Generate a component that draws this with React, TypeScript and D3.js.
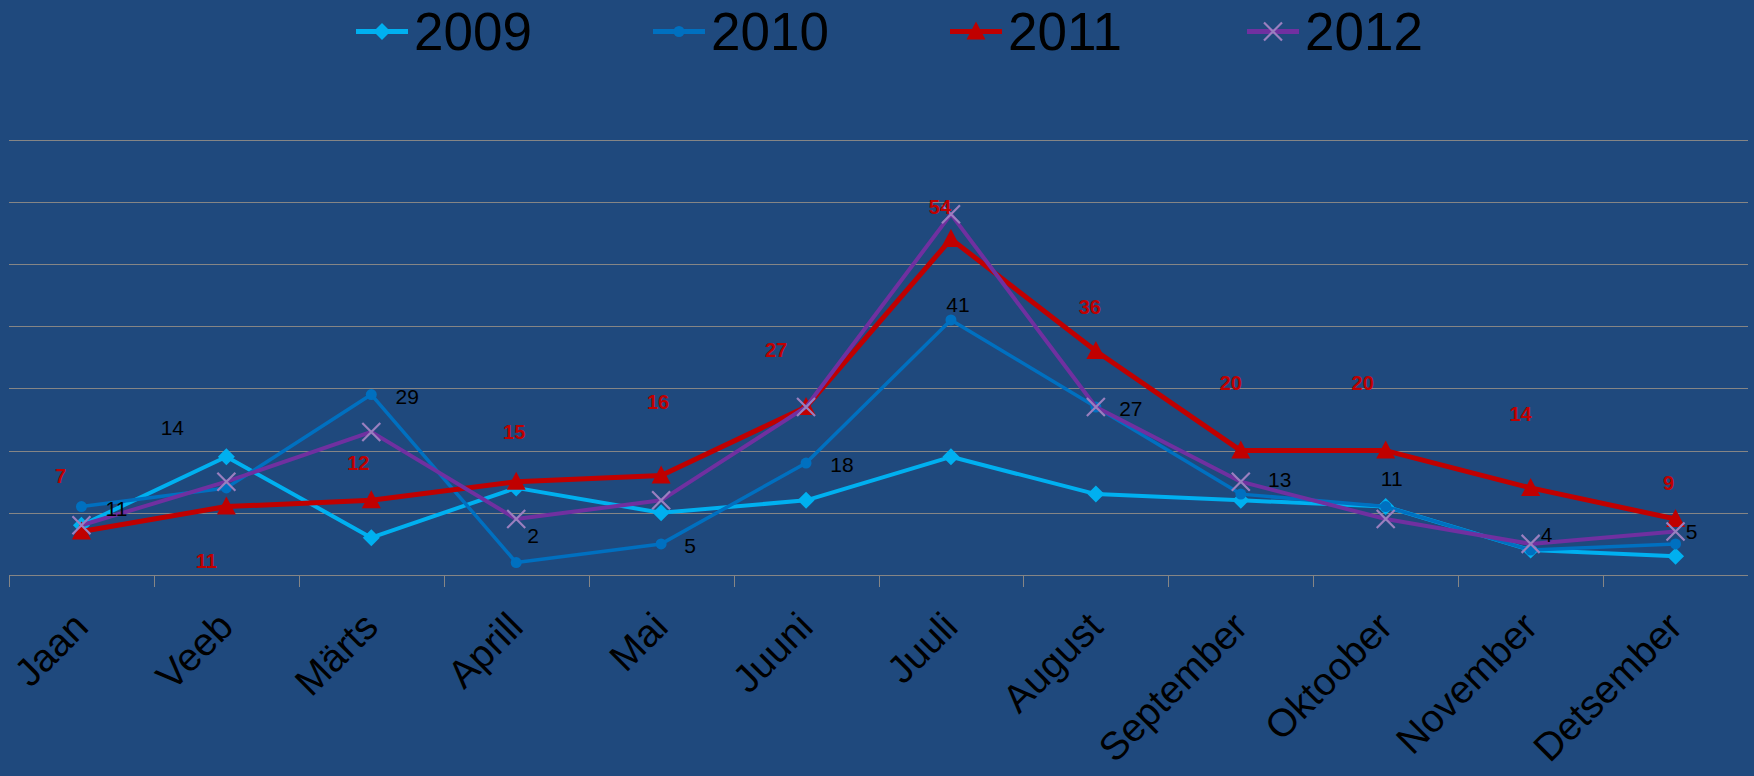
import React, {useEffect, useRef} from 'react';
import * as d3 from "d3";

const months = ["Jaan", "Veeb", "Märts", "Aprill", "Mai", "Juuni", "Juuli", "August", "September", "Oktoober", "November", "Detsember"];
const years = ["2009", "2010", "2011", "2012"];
const values2009 = [8, 19, 6, 14, 10, 12, 19, 13, 12, 11, 4, 3];
const values2010 = [11, 14, 29, 2, 5, 18, 41, 27, 13, 11, 4, 5];
const values2011 = [7, 11, 12, 15, 16, 27, 54, 36, 20, 20, 14, 9];
const values2012 = [8, 15, 23, 9, 12, 27, 58, 27, 15, 9, 5, 7];
const yTicks = [0, 10, 20, 30, 40, 50, 60, 70];

// labels were dragged around by hand in the original, so keep their nudges (px from the point)
const labelShift2010 = [[35, 2], [-54, -60], [36, 2], [17, -27], [29, 2], [36, 1], [7, -15], [35, 1], [39, -15], [6, -28], [16, -16], [16, -12]];
const labelShift2011 = [[-21, -56], [-20, 54], [-13, -38], [-2, -50], [-3, -74], [-30, -57], [-11, -32], [-6, -44], [-10, -68], [-23, -68], [-10, -74], [-7, -36]];

const W = 1754, H = 776;
const font = "'Liberation Sans', Arial, sans-serif";

const styles = [
    {color: "#00B0F0", width: 4, marker: "diamond"},
    {color: "#0070C0", width: 3.5, marker: "circle"},
    {color: "#C00000", width: 5, marker: "triangle"},
    {color: "#7030A0", width: 4, marker: "cross"},
];

function drawMarker(g: any, kind: string, x: number, y: number, color: string) {
    if (kind == "diamond") {
        g.append("path")
            .attr("d", `M${x},${y - 8.5} L${x + 8.5},${y} L${x},${y + 8.5} L${x - 8.5},${y} Z`)
            .attr("fill", color);
    } else if (kind == "circle") {
        g.append("circle").attr("cx", x).attr("cy", y).attr("r", 5.5).attr("fill", color);
    } else if (kind == "triangle") {
        g.append("path")
            .attr("d", `M${x},${y - 10} L${x + 9.5},${y + 8} L${x - 9.5},${y + 8} Z`)
            .attr("fill", color);
    } else {
        const s = 9;
        g.append("path")
            .attr("d", `M${x - s},${y - s} L${x + s},${y + s} M${x - s},${y + s} L${x + s},${y - s}`)
            .attr("stroke", "#9a7fbf")
            .attr("stroke-width", 2.2)
            .attr("fill", "none");
    }
}

export default function App() {
    const ref = useRef<SVGSVGElement>(null);

    useEffect(() => {
        const svg = d3.select(ref.current);
        svg.selectAll("*").remove();

        const series = [values2009, values2010, values2011, values2012];

        svg.append("rect").attr("width", W).attr("height", H).attr("fill", "#1F497D");

        const xScale = d3.scaleBand().domain(months).range([9, 1748]);
        const yScale = d3.scaleLinear().domain([0, 70]).range([575, 139.5]);
        const cx = (m: string) => (xScale(m) as number) + xScale.bandwidth() / 2;

        //gridlines
        svg.append("g").selectAll("line")
            .data(yTicks)
            .join("line")
            .attr("x1", 9).attr("x2", 1748)
            .attr("y1", (d: number) => Math.round(yScale(d)) + 0.5)
            .attr("y2", (d: number) => Math.round(yScale(d)) + 0.5)
            .attr("stroke", "#858585")
            .attr("stroke-width", 1);

        //category tick marks between months
        svg.append("g").selectAll("line")
            .data(months)
            .join("line")
            .attr("x1", (d: string) => Math.round(xScale(d) as number) + 0.5)
            .attr("x2", (d: string) => Math.round(xScale(d) as number) + 0.5)
            .attr("y1", Math.round(yScale(0)))
            .attr("y2", Math.round(yScale(0)) + 12)
            .attr("stroke", "#858585")
            .attr("stroke-width", 1);

        //month labels, slanted
        svg.append("g").selectAll("text")
            .data(months)
            .join("text")
            .attr("transform", (d: string) => `translate(${cx(d) + 9},629) rotate(-45)`)
            .attr("text-anchor", "end")
            .attr("font-family", font)
            .attr("font-size", 39)
            .attr("fill", "#000")
            .text((d: string) => d);

        //lines + markers
        const line = d3.line<number>()
            .x((d, i) => cx(months[i]))
            .y(d => yScale(d));

        series.forEach((vals, si) => {
            const st = styles[si];
            const g = svg.append("g");
            g.append("path")
                .attr("d", line(vals))
                .attr("fill", "none")
                .attr("stroke", st.color)
                .attr("stroke-width", st.width)
                .attr("stroke-linejoin", "round");
            vals.forEach((v, i) => drawMarker(g, st.marker, cx(months[i]), yScale(v), st.color));
        });

        //data labels (2010 black, 2011 red bold)
        svg.append("g").selectAll("text")
            .data(values2010)
            .join("text")
            .attr("x", (d: number, i: number) => cx(months[i]) + labelShift2010[i][0])
            .attr("y", (d: number, i: number) => yScale(d) + labelShift2010[i][1])
            .attr("dy", "0.36em")
            .attr("text-anchor", "middle")
            .attr("font-family", font)
            .attr("font-size", 21)
            .attr("fill", "#000")
            .text((d: number) => d);

        svg.append("g").selectAll("text")
            .data(values2011)
            .join("text")
            .attr("x", (d: number, i: number) => cx(months[i]) + labelShift2011[i][0])
            .attr("y", (d: number, i: number) => yScale(d) + labelShift2011[i][1])
            .attr("dy", "0.36em")
            .attr("text-anchor", "middle")
            .attr("font-family", font)
            .attr("font-size", 20)
            .attr("font-weight", "bold")
            .attr("fill", "#C00000")
            .text((d: number) => d);

        //legend
        const legend = svg.append("g");
        years.forEach((yr, i) => {
            const st = styles[i];
            const x0 = 356 + i * 297;
            legend.append("line")
                .attr("x1", x0).attr("x2", x0 + 52)
                .attr("y1", 31.5).attr("y2", 31.5)
                .attr("stroke", st.color)
                .attr("stroke-width", 5);
            drawMarker(legend, st.marker, x0 + 26, 31.5, st.color);
            legend.append("text")
                .attr("x", x0 + 58)
                .attr("y", 50)
                .attr("font-family", font)
                .attr("font-size", 53)
                .attr("fill", "#000")
                .text(yr);
        });
    }, []);

    return (
        <svg ref={ref} width={W} height={H} style={{position: "absolute", left: 0, top: 0}}></svg>
    );
}
